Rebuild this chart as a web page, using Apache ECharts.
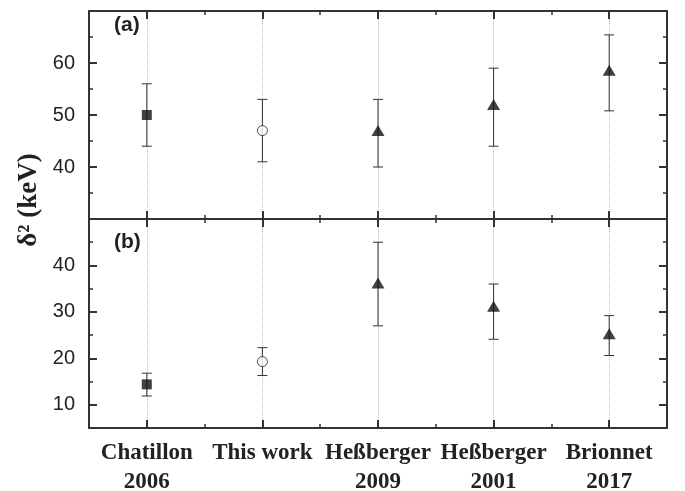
<!DOCTYPE html>
<html><head><meta charset="utf-8">
<script src="https://cdn.jsdelivr.net/npm/echarts@6/dist/echarts.min.js"></script>
<style>html,body{margin:0;padding:0;background:#fff}#c{width:685px;height:491px}</style>
</head><body><div id="c"></div>
<script>
// ---- data ----
const categories = ['Chatillon\n2006', 'This work', 'Heßberger\n2009', 'Heßberger\n2001', 'Brionnet\n2017'];
const markerKinds = ['square', 'openCircle', 'triangle', 'triangle', 'triangle'];
// panel (a)
const aValues = [50, 47, 47, 52, 58.6];
const aHigh   = [56, 53, 53, 59, 65.4];
const aLow    = [44, 41, 40, 44, 50.8];
// panel (b)
const bValues = [14.4, 19.3, 36.2, 31.2, 25.3];
const bHigh   = [16.8, 22.3, 45, 36, 29.2];
const bLow    = [11.9, 16.3, 27, 24.1, 20.6];
// axis ticks
const aMajorTicks = [40, 50, 60];
const aAllMajor = [30, 40, 50, 60, 70];
const bMajorTicks = [10, 20, 30, 40];
const bAllMajor = [10, 20, 30, 40, 50];

// ---- styles ----
const AX = '#333';
const markerStyles = {
  square: { symbol: 'rect', symbolSize: 10, itemStyle: { color: '#111' } },
  openCircle: { symbol: 'circle', symbolSize: 10, itemStyle: { color: '#fff', borderColor: '#222', borderWidth: 1 } },
  triangle: { symbol: 'triangle', symbolSize: [13, 11], itemStyle: { color: '#111' } }
};

function xAxes(gridIndex, showLabels) {
  const base = {
    type: 'category', data: categories, gridIndex: gridIndex, boundaryGap: true,
    axisLine: { show: true, lineStyle: { color: AX, width: 2 } },
    axisLabel: { show: false }, splitLine: { show: false }
  };
  const major = { show: true, inside: true, alignWithLabel: true, length: 8, lineStyle: { color: AX, width: 2 } };
  const minor = { show: true, inside: true, alignWithLabel: false, length: 4, lineStyle: { color: AX, width: 1.5 } };
  return [
    Object.assign({}, base, {
      position: 'bottom', axisTick: major,
      axisLabel: showLabels ? {
        show: true, interval: 0, margin: 11, color: '#222',
        fontFamily: 'Liberation Serif', fontWeight: 'bold', fontSize: 23, lineHeight: 29
      } : { show: false },
      splitLine: { show: true, alignWithLabel: true, interval: 0, lineStyle: { color: '#bbb', type: 'dotted', width: 1 } }
    }),
    Object.assign({}, base, { position: 'bottom', axisLine: { show: false }, axisTick: minor }),
    Object.assign({}, base, { position: 'top', axisTick: major }),
    Object.assign({}, base, { position: 'top', axisLine: { show: false }, axisTick: minor })
  ];
}

function yAxes(gridIndex, min, max, labelVals, majorVals) {
  const base = {
    type: 'value', gridIndex: gridIndex, min: min, max: max, interval: 5,
    splitLine: { show: false }, axisLabel: { show: false },
    axisLine: { show: true, lineStyle: { color: AX, width: 2 } }
  };
  const minor = { show: true, inside: true, length: 4, lineStyle: { color: AX, width: 1.5 } };
  const major = { show: true, inside: true, length: 8, customValues: majorVals, lineStyle: { color: AX, width: 2 } };
  return [
    Object.assign({}, base, {
      position: 'left', axisTick: minor,
      axisLabel: {
        show: true, margin: 14, color: '#222', fontFamily: 'Liberation Sans', fontSize: 20,
        formatter: function (v) { return labelVals.indexOf(v) >= 0 ? String(v) : ''; }
      }
    }),
    Object.assign({}, base, { position: 'left', axisLine: { show: false }, axisTick: major }),
    Object.assign({}, base, { position: 'right', axisTick: minor }),
    Object.assign({}, base, { position: 'right', axisLine: { show: false }, axisTick: major })
  ];
}

function errorSeries(xi, yi, lows, highs) {
  return {
    type: 'custom', xAxisIndex: xi, yAxisIndex: yi, z: 2, silent: true,
    data: categories.map(function (c, i) { return [i, lows[i], highs[i]]; }),
    encode: { x: 0, y: [1, 2] },
    renderItem: function (params, api) {
      const x = api.value(0);
      const lo = api.coord([x, api.value(1)]);
      const hi = api.coord([x, api.value(2)]);
      const w = 5;
      const st = { stroke: '#333', lineWidth: 1 };
      return {
        type: 'group', children: [
          { type: 'line', shape: { x1: lo[0], y1: lo[1], x2: hi[0], y2: hi[1] }, style: st },
          { type: 'line', shape: { x1: lo[0] - w, y1: lo[1], x2: lo[0] + w, y2: lo[1] }, style: st },
          { type: 'line', shape: { x1: hi[0] - w, y1: hi[1], x2: hi[0] + w, y2: hi[1] }, style: st }
        ]
      };
    }
  };
}

function markerSeries(xi, yi, values) {
  return {
    type: 'scatter', xAxisIndex: xi, yAxisIndex: yi, z: 3, silent: true,
    data: values.map(function (v, i) {
      const s = markerStyles[markerKinds[i]];
      return { value: [i, v], symbol: s.symbol, symbolSize: s.symbolSize, itemStyle: s.itemStyle };
    })
  };
}

const chart = echarts.init(document.getElementById('c'), null, { renderer: 'canvas' });
chart.setOption({
  animation: false,
  backgroundColor: '#fff',
  grid: [
    { left: 89, right: 18, top: 11, height: 208, containLabel: false, outerBoundsMode: 'none' },
    { left: 89, right: 18, top: 219, height: 209, containLabel: false, outerBoundsMode: 'none' }
  ],
  xAxis: xAxes(0, false).concat(xAxes(1, true)),
  yAxis: yAxes(0, 30, 70, aMajorTicks, aAllMajor).concat(yAxes(1, 5, 50, bMajorTicks, bAllMajor)),
  series: [
    errorSeries(0, 0, aLow, aHigh),
    markerSeries(0, 0, aValues),
    errorSeries(4, 4, bLow, bHigh),
    markerSeries(4, 4, bValues)
  ],
  graphic: [
    { type: 'text', x: 29, y: 200, rotation: Math.PI / 2,
      style: { text: 'δ² (keV)', font: 'bold 27px "Liberation Serif"', fill: '#222', align: 'center', verticalAlign: 'middle' } },
    { type: 'text', x: 114, y: 25,
      style: { text: '(a)', font: 'bold 21px "Liberation Sans"', fill: '#222', align: 'left', verticalAlign: 'middle' } },
    { type: 'text', x: 114, y: 242,
      style: { text: '(b)', font: 'bold 21px "Liberation Sans"', fill: '#222', align: 'left', verticalAlign: 'middle' } }
  ]
});
</script>
</body></html>
